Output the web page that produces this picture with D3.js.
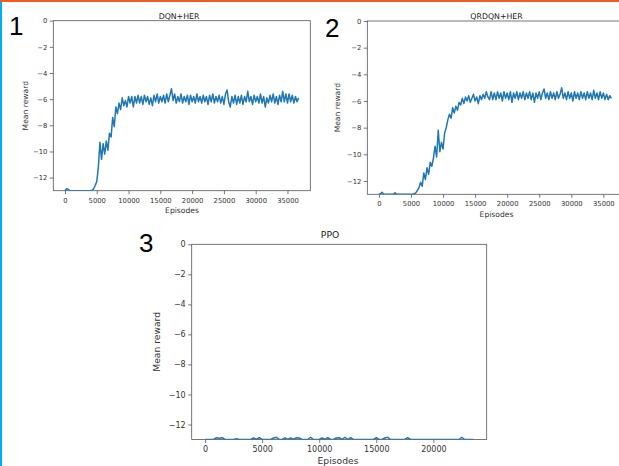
<!DOCTYPE html>
<html>
<head>
<meta charset="utf-8">
<script src="https://cdn.jsdelivr.net/npm/d3@7"></script>
<style>
  html, body { margin: 0; padding: 0; background: #fff; }
  svg { display: block; }
</style>
</head>
<body>
<svg id="main-svg" width="619" height="466"></svg>
<script>
// episodes between two logged points
const episodeStep = 250;

// DQN+HER mean reward (one value every 250 episodes)
const dqnReward = [
  -13, -12.85, -12.9, -13, -13, -13, -13, -13, -13, -13,
  -13, -13, -13, -13, -13, -13, -13, -13, -12.85, -12.6,
  -12.3, -11.2, -9.3, -10.6, -9.4, -10.2, -9.2, -9.9, -8.6, -8.9,
  -7.4, -8.1, -6.6, -7.1, -6.3, -6.8, -5.9, -6.5, -6.1, -6.6,
  -5.8, -6.3, -5.8, -6.6, -5.8, -6.3, -5.7, -6.3, -5.8, -6.4,
  -5.7, -6.2, -5.8, -6.4, -5.9, -6.5, -5.7, -6.2, -5.6, -6.3,
  -5.8, -6.2, -5.7, -6.3, -5.6, -6.2, -5.7, -5.2, -6.1, -5.6,
  -6.3, -5.8, -6.2, -5.6, -6.3, -5.8, -6.2, -5.7, -6.4, -5.7,
  -6.2, -5.8, -6.3, -5.6, -6.2, -5.8, -6.3, -5.7, -6.2, -5.8,
  -6.4, -5.7, -6.2, -5.6, -6.3, -5.8, -6.2, -5.7, -6.3, -5.8,
  -6.4, -5.6, -5.3, -6.2, -6.6, -5.8, -6.3, -5.7, -6.4, -5.8,
  -6.3, -5.7, -6.4, -5.8, -6.2, -5.4, -6.2, -5.8, -6.4, -5.7,
  -6.2, -5.8, -6.3, -5.6, -6.3, -5.8, -6.6, -5.9, -6.3, -5.7,
  -6.2, -5.6, -6.3, -5.8, -6.4, -5.7, -6.2, -5.4, -6.2, -5.6,
  -6.3, -5.6, -6.2, -5.7, -6.3, -5.8, -6.2, -5.9
];

// QRDQN+HER mean reward
const qrdqnReward = [
  -13, -12.95, -12.85, -13, -13, -13, -13, -13, -13, -13,
  -12.88, -13, -13, -13, -13, -13, -13, -13, -13, -13,
  -13, -13, -12.95, -12.9, -12.7, -12.5, -12.1, -12.4, -11.4, -11.9,
  -11.0, -11.5, -10.6, -10.9, -10.3, -9.4, -10.2, -8.2, -9.8, -9.1,
  -9.6, -8.4, -8.0, -7.4, -7.0, -7.3, -6.5, -6.9, -6.4, -6.7,
  -6.1, -6.3, -5.8, -6.2, -5.7, -6.0, -5.6, -6.1, -5.8, -5.5,
  -6.0, -5.7, -6.2, -5.6, -5.9, -5.5, -5.8, -5.3, -5.7, -5.9,
  -5.3, -5.9, -5.4, -5.9, -5.3, -5.8, -5.4, -6.0, -5.3, -5.8,
  -5.4, -5.9, -5.3, -6.1, -5.4, -5.8, -5.3, -5.9, -5.4, -5.8,
  -5.3, -5.9, -5.4, -5.8, -5.3, -5.9, -5.4, -6.1, -5.4, -5.8,
  -5.3, -5.9, -5.4, -5.1, -5.8, -5.4, -5.9, -5.3, -5.8, -5.4,
  -5.9, -5.3, -5.8, -5.5, -5.0, -5.8, -5.4, -5.9, -5.3, -5.8,
  -5.4, -6.0, -5.3, -5.8, -5.4, -5.9, -5.3, -5.8, -5.4, -5.9,
  -5.3, -5.8, -5.4, -5.9, -5.2, -5.8, -5.4, -5.9, -5.3, -5.8,
  -5.4, -5.9, -5.5, -5.9, -5.6, -5.8
];

// PPO mean reward
const ppoReward = [
  -13, -13, -13, -13, -12.88, -12.92, -12.88, -13, -13, -13,
  -13, -12.95, -13, -13, -13, -13, -13, -12.9, -13, -12.88,
  -13, -13, -13, -13, -12.9, -12.85, -13, -13, -12.9, -13,
  -12.9, -13, -12.88, -12.9, -13, -13, -13, -12.85, -13, -13,
  -13, -12.9, -13, -12.88, -13, -13, -12.9, -12.88, -13, -12.85,
  -13, -12.88, -13, -13, -13, -13, -13, -13, -13, -13,
  -12.88, -13, -13, -12.9, -12.85, -13, -13, -13, -13, -13,
  -13, -12.88, -13, -13, -13, -13, -13, -13, -13, -13,
  -13, -13, -13, -13, -13, -13, -13, -13, -13, -13,
  -12.85, -13, -13, -13, -13
];

const yTickValues = [0, -2, -4, -6, -8, -10, -12];
const xTickStep = 5000;

const titles = ["DQN+HER", "QRDQN+HER", "PPO"];
const panelNumbers = ["1", "2", "3"];

const svg = d3.select("#main-svg");
const lineColor = "#1f77b4";

// 左邊藍線和上方橘色條
svg.append("rect").attr("x", 0).attr("y", 0).attr("width", 2).attr("height", 466).attr("fill", "#00aeef");
svg.append("rect").attr("x", 0).attr("y", 0).attr("width", 619).attr("height", 2).attr("fill", "#f25a24");

// 各面板的版面位置
const panels = [
  {
    data: dqnReward, title: titles[0], num: panelNumbers[0],
    left: 53.3, right: 310.3, top: 20.7, bottom: 190.7,
    tickFont: 6.8, labelFont: 7.6, titleFont: 7.8,
    titleX: 179, titleY: 18.5, ylabelX: 25, xlabelX: 182, xlabelY: 212.5,
    numX: 9, numY: 34.5
  },
  {
    data: qrdqnReward, title: titles[1], num: panelNumbers[1],
    left: 367.3, right: 623, top: 21, bottom: 194.3,
    tickFont: 6.8, labelFont: 7.6, titleFont: 7.8,
    titleX: 496.5, titleY: 19, ylabelX: 337, xlabelX: 496.5, xlabelY: 216.5,
    numX: 325, numY: 36.5
  },
  {
    data: ppoReward, title: titles[2], num: panelNumbers[2],
    left: 191.7, right: 486.7, top: 244.3, bottom: 439.5,
    tickFont: 8, labelFont: 9.2, titleFont: 9.2,
    titleX: 330, titleY: 237.5, ylabelX: 157, xlabelX: 338, xlabelY: 464,
    numX: 139, numY: 251.7
  }
];

panels.forEach((p, idx) => {
  const points = p.data.map((v, i) => ({ ep: i * episodeStep, r: v }));
  const maxEp = d3.max(points, (d) => d.ep);
  const pad = maxEp * 0.05;

  const xScale = d3.scaleLinear().domain([-pad, maxEp + pad]).range([p.left, p.right]);
  const yScale = d3.scaleLinear().domain([-13, 0]).range([p.bottom, p.top]);

  const g = svg.append("g").attr("class", "panel");

  // 軸線
  const xAxis = d3.axisBottom(xScale)
    .tickValues(d3.range(0, maxEp + 1, xTickStep))
    .tickFormat(d3.format("d"))
    .tickSize(3.5)
    .tickPadding(12 - 3.5 - p.tickFont * 0.71);
  const yAxis = d3.axisLeft(yScale)
    .tickValues(yTickValues)
    .tickFormat((d) => (d < 0 ? "\u2212" + Math.abs(d) : d))
    .tickSize(3.5)
    .tickPadding(2.5);

  [
    g.append("g").attr("transform", `translate(0,${p.bottom})`).call(xAxis),
    g.append("g").attr("transform", `translate(${p.left},0)`).call(yAxis)
  ].forEach((ax) => {
    ax.select(".domain").remove();
    ax.attr("font-family", "'DejaVu Sans', sans-serif").attr("font-size", p.tickFont);
    ax.selectAll("line").attr("stroke", "#555").attr("stroke-width", 0.8);
    ax.selectAll("text").attr("fill", "#333");
  });

  // 裁切區
  const clipId = `clip-${idx}`;
  g.append("clipPath").attr("id", clipId)
    .append("rect")
    .attr("x", p.left).attr("y", p.top)
    .attr("width", p.right - p.left).attr("height", p.bottom - p.top);

  // 框線
  g.append("rect")
    .attr("x", p.left).attr("y", p.top)
    .attr("width", p.right - p.left).attr("height", p.bottom - p.top)
    .attr("fill", "none")
    .attr("stroke", "#555")
    .attr("stroke-width", 0.8);

  // 資料線
  const line = d3.line().x((d) => xScale(d.ep)).y((d) => yScale(d.r));
  g.append("path")
    .datum(points)
    .attr("clip-path", `url(#${clipId})`)
    .attr("d", line)
    .attr("fill", "none")
    .attr("stroke", lineColor)
    .attr("stroke-width", 1.5)
    .attr("stroke-linejoin", "round");

  // 標題與軸標籤
  g.append("text")
    .attr("x", p.titleX).attr("y", p.titleY)
    .attr("text-anchor", "middle")
    .style("font-family", "'DejaVu Sans', sans-serif")
    .style("font-size", p.titleFont + "px")
    .style("fill", "#222")
    .text(p.title);

  g.append("text")
    .attr("x", p.xlabelX).attr("y", p.xlabelY)
    .attr("text-anchor", "middle")
    .style("font-family", "'DejaVu Sans', sans-serif")
    .style("font-size", p.labelFont + "px")
    .style("fill", "#333")
    .text("Episodes");

  g.append("text")
    .attr("transform", `translate(${p.ylabelX},${(p.top + p.bottom) / 2}) rotate(-90)`)
    .attr("text-anchor", "middle")
    .attr("dy", "0.35em")
    .style("font-family", "'DejaVu Sans', sans-serif")
    .style("font-size", p.labelFont + "px")
    .style("fill", "#333")
    .text("Mean reward");

  // 大號面板編號
  svg.append("text")
    .attr("x", p.numX).attr("y", p.numY)
    .style("font-family", "'Liberation Sans', Arial, sans-serif")
    .style("font-size", "26px")
    .style("fill", "#000")
    .text(p.num);
});
</script>
</body>
</html>
